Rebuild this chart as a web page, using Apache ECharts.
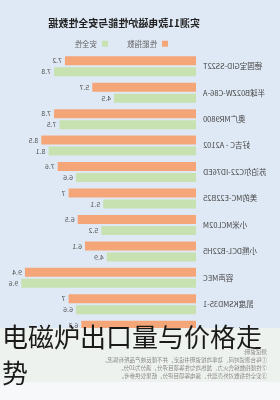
<!DOCTYPE html>
<html><head><meta charset="utf-8">
<script src="https://cdn.jsdelivr.net/npm/echarts@6/dist/echarts.min.js"></script>
<style>
html,body{margin:0;padding:0;width:280px;height:400px;overflow:hidden;background:#fff}
#wrap{position:relative;width:280px;height:400px}
#chart{position:absolute;left:0;top:0;width:280px;height:400px;transform:scaleX(-1)}
#cap{position:absolute;left:2px;top:318px;width:272px;font-family:"Noto Sans CJK SC";font-size:26px;line-height:36px;color:#1a1a1a}
</style></head>
<body><div id="wrap"><div id="chart"></div><div id="cap">电磁炉出口量与价格走势</div></div>
<script>
const categories = ["德国宝GID-SS22T","半球B02ZW-C86-A","奥广MR9800","好吉C - A2102","苏泊尔C22-ID76ED","美的MC-E22B25","小米MCL02M","小熊DCL-B22H5","容声MEC","凯度KSMD35-1","九阳C22-S3"];
const performance = [7.2,5.7,7.8,8.5,7.6,7,6.5,6.1,9.4,7,6.3];
const safety = [7.8,4.5,7.5,8.1,6.6,5.1,5.2,4.9,9.6,6.6,5.6];
const seriesNames = ["性能指数","安全性"];
const chartTitle = "实测11款电磁炉性能与安全性数据";
const notes = ["测试说明:","①每台测试时间、功率均按说明书设定，并不能反映产品所有情况。","②性能指数综合火力、加热均匀性等项目评分，满分为10分。","③安全性指数对外壳温升、漏电等项目评分，结果仅供参考。"];

const chart = echarts.init(document.getElementById('chart'), null, {renderer:'canvas'});
const lbl = {show:true, position:'right', distance:3, fontSize:7, color:'#555', fontFamily:'Noto Sans CJK SC'};
chart.setOption({
  backgroundColor:'#dfe9f5',
  animation:false,
  title:{text:chartTitle, left:75, top:13, textStyle:{fontSize:10, fontWeight:'bold', color:'#222', fontFamily:'Noto Sans CJK SC'}},
  legend:{data:seriesNames, left:107, top:35, itemWidth:6, itemHeight:6, itemGap:19, icon:'rect',
    textStyle:{fontSize:7.5, color:'#666', fontFamily:'Noto Sans CJK SC'}},
  grid:{left:84, right:14, top:53, bottom:56},
  xAxis:{type:'value', min:0, max:10, show:false},
  yAxis:{type:'category', data:categories, inverse:true,
    axisLine:{show:false}, axisTick:{show:false},
    axisLabel:{fontSize:7.5, color:'#444', margin:7, fontFamily:'Noto Sans CJK SC'}},
  series:[
    {name:seriesNames[0], type:'bar', data:performance, barWidth:9, barGap:'22%', itemStyle:{color:'#f5a679'}, label:lbl},
    {name:seriesNames[1], type:'bar', data:safety, barWidth:9, itemStyle:{color:'#c7e2b0'}, label:lbl}
  ],
  graphic:[
    {type:'rect', left:0, top:328, shape:{width:280, height:54}, style:{fill:'#eef2ee'}, z:100},
    {type:'rect', left:0, top:382, shape:{width:280, height:18}, style:{fill:'#f7f8f9'}, z:100},
    {type:'text', left:13, top:348, z:101, style:{text:notes.join('\n'), fontSize:5.5, lineHeight:8, fill:'#888', fontFamily:'Noto Sans CJK SC'}}
  ]
});
</script></body></html>
